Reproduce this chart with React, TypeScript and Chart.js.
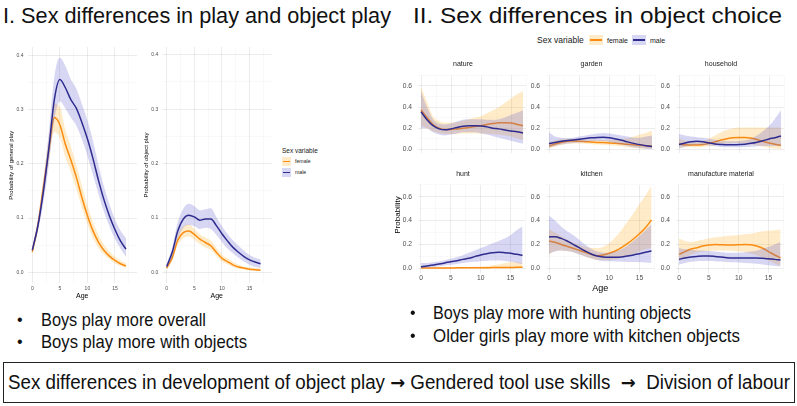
import React, { useEffect, useLayoutEffect, useRef } from "react";
import { Chart, registerables } from "chart.js";
Chart.register(...registerables);

// ---------------- data ----------------
const AGES = [0, 1, 2, 3, 4, 5, 6, 7, 8, 9, 10, 11, 12, 13, 14, 15, 16, 17];

// I. general play
const GEN_F = [0.038, 0.086, 0.156, 0.225, 0.285, 0.272, 0.236, 0.207, 0.175, 0.138, 0.105, 0.077, 0.056, 0.041, 0.030, 0.022, 0.016, 0.012];
const GEN_F_LO = [0.032, 0.077, 0.14, 0.205, 0.258, 0.248, 0.212, 0.185, 0.153, 0.119, 0.089, 0.064, 0.045, 0.033, 0.024, 0.017, 0.012, 0.008];
const GEN_F_HI = [0.045, 0.096, 0.172, 0.248, 0.31, 0.305, 0.262, 0.232, 0.198, 0.16, 0.124, 0.093, 0.069, 0.051, 0.038, 0.029, 0.022, 0.017];
const GEN_M = [0.041, 0.085, 0.148, 0.228, 0.318, 0.355, 0.34, 0.318, 0.302, 0.276, 0.246, 0.21, 0.17, 0.134, 0.104, 0.079, 0.058, 0.043];
const GEN_M_LO = [0.035, 0.074, 0.128, 0.198, 0.28, 0.315, 0.302, 0.285, 0.27, 0.245, 0.215, 0.18, 0.145, 0.112, 0.085, 0.062, 0.044, 0.029];
const GEN_M_HI = [0.048, 0.096, 0.168, 0.258, 0.36, 0.395, 0.38, 0.355, 0.338, 0.31, 0.28, 0.243, 0.198, 0.158, 0.125, 0.098, 0.077, 0.063];

// I. object play
const OBJ_F = [0.008, 0.027, 0.059, 0.073, 0.076, 0.070, 0.061, 0.055, 0.049, 0.037, 0.026, 0.020, 0.014, 0.010, 0.008, 0.006, 0.005, 0.004];
const OBJ_F_LO = [0.005, 0.021, 0.050, 0.063, 0.066, 0.060, 0.052, 0.046, 0.041, 0.030, 0.020, 0.015, 0.010, 0.007, 0.005, 0.004, 0.003, 0.002];
const OBJ_F_HI = [0.012, 0.034, 0.069, 0.085, 0.088, 0.080, 0.070, 0.064, 0.058, 0.045, 0.033, 0.026, 0.019, 0.014, 0.011, 0.009, 0.008, 0.007];
const OBJ_M = [0.011, 0.037, 0.076, 0.098, 0.105, 0.102, 0.096, 0.098, 0.098, 0.086, 0.071, 0.058, 0.046, 0.037, 0.029, 0.023, 0.019, 0.016];
const OBJ_M_LO = [0.006, 0.028, 0.062, 0.082, 0.087, 0.085, 0.080, 0.082, 0.080, 0.069, 0.056, 0.044, 0.035, 0.027, 0.020, 0.014, 0.010, 0.008];
const OBJ_M_HI = [0.016, 0.046, 0.092, 0.117, 0.126, 0.122, 0.114, 0.116, 0.118, 0.102, 0.085, 0.071, 0.059, 0.049, 0.040, 0.032, 0.027, 0.024];

// II. object choice
const NATURE_F = [0.374, 0.30, 0.235, 0.20, 0.187, 0.187, 0.193, 0.20, 0.207, 0.215, 0.223, 0.235, 0.243, 0.251, 0.251, 0.249, 0.235, 0.223];
const NATURE_F_LO = [0.22, 0.2, 0.17, 0.155, 0.145, 0.145, 0.148, 0.15, 0.15, 0.15, 0.15, 0.148, 0.145, 0.14, 0.13, 0.12, 0.105, 0.09];
const NATURE_F_HI = [0.59, 0.45, 0.31, 0.27, 0.25, 0.25, 0.257, 0.27, 0.285, 0.30, 0.313, 0.34, 0.37, 0.40, 0.44, 0.48, 0.52, 0.55];
const NATURE_M = [0.355, 0.28, 0.223, 0.193, 0.184, 0.193, 0.207, 0.217, 0.222, 0.223, 0.221, 0.212, 0.20, 0.193, 0.182, 0.173, 0.165, 0.154];
const NATURE_M_LO = [0.20, 0.20, 0.16, 0.14, 0.131, 0.14, 0.15, 0.16, 0.16, 0.16, 0.15, 0.14, 0.123, 0.109, 0.095, 0.081, 0.067, 0.053];
const NATURE_M_HI = [0.55, 0.40, 0.285, 0.243, 0.235, 0.243, 0.263, 0.28, 0.285, 0.285, 0.285, 0.28, 0.28, 0.285, 0.30, 0.327, 0.346, 0.37];

const GARDEN_F = [0.03, 0.05, 0.065, 0.075, 0.078, 0.076, 0.072, 0.068, 0.065, 0.063, 0.06, 0.056, 0.052, 0.047, 0.042, 0.037, 0.033, 0.03];
const GARDEN_F_LO = [0.01, 0.025, 0.04, 0.05, 0.055, 0.055, 0.052, 0.048, 0.045, 0.042, 0.038, 0.033, 0.027, 0.02, 0.014, 0.008, 0.005, 0.003];
const GARDEN_F_HI = [0.07, 0.085, 0.095, 0.1, 0.1, 0.097, 0.093, 0.09, 0.088, 0.087, 0.088, 0.09, 0.095, 0.105, 0.12, 0.14, 0.155, 0.175];
const GARDEN_M = [0.053, 0.065, 0.075, 0.082, 0.088, 0.095, 0.102, 0.108, 0.112, 0.113, 0.108, 0.098, 0.085, 0.07, 0.056, 0.044, 0.034, 0.026];
const GARDEN_M_LO = [0.015, 0.03, 0.045, 0.055, 0.06, 0.065, 0.07, 0.075, 0.078, 0.078, 0.07, 0.058, 0.045, 0.032, 0.02, 0.012, 0.006, 0.003];
const GARDEN_M_HI = [0.16, 0.12, 0.11, 0.105, 0.11, 0.12, 0.13, 0.14, 0.15, 0.155, 0.15, 0.14, 0.13, 0.12, 0.11, 0.11, 0.12, 0.13];

const HOUSE_F = [0.048, 0.042, 0.04, 0.04, 0.045, 0.056, 0.07, 0.087, 0.10, 0.109, 0.112, 0.112, 0.106, 0.092, 0.075, 0.059, 0.048, 0.036];
const HOUSE_F_LO = [0.015, 0.02, 0.02, 0.02, 0.022, 0.028, 0.035, 0.045, 0.055, 0.06, 0.06, 0.055, 0.045, 0.035, 0.025, 0.015, 0.008, 0.003];
const HOUSE_F_HI = [0.1, 0.08, 0.07, 0.07, 0.08, 0.1, 0.13, 0.16, 0.185, 0.2, 0.205, 0.205, 0.205, 0.205, 0.205, 0.205, 0.205, 0.205];
const HOUSE_M = [0.045, 0.06, 0.072, 0.075, 0.072, 0.06, 0.05, 0.045, 0.042, 0.042, 0.045, 0.048, 0.056, 0.067, 0.081, 0.098, 0.109, 0.126];
const HOUSE_M_LO = [0.01, 0.025, 0.035, 0.04, 0.04, 0.035, 0.028, 0.022, 0.02, 0.02, 0.02, 0.022, 0.025, 0.028, 0.03, 0.03, 0.03, 0.03];
const HOUSE_M_HI = [0.145, 0.13, 0.12, 0.115, 0.11, 0.1, 0.09, 0.08, 0.075, 0.075, 0.078, 0.085, 0.1, 0.13, 0.17, 0.22, 0.29, 0.37];

const HUNT_F = [0.003, 0.003, 0.003, 0.003, 0.003, 0.003, 0.004, 0.004, 0.004, 0.005, 0.005, 0.005, 0.006, 0.006, 0.007, 0.007, 0.008, 0.008];
const HUNT_F_LO = [0.001, 0.001, 0.001, 0.001, 0.001, 0.001, 0.001, 0.001, 0.001, 0.001, 0.001, 0.001, 0.001, 0.001, 0.001, 0.001, 0.001, 0.001];
const HUNT_F_HI = [0.01, 0.01, 0.01, 0.01, 0.01, 0.01, 0.011, 0.011, 0.012, 0.013, 0.015, 0.019, 0.025, 0.033, 0.042, 0.05, 0.05, 0.045];
const HUNT_M = [0.014, 0.02, 0.028, 0.036, 0.045, 0.056, 0.064, 0.075, 0.084, 0.098, 0.112, 0.123, 0.131, 0.134, 0.131, 0.126, 0.117, 0.109];
const HUNT_M_LO = [0.0, 0.005, 0.01, 0.017, 0.024, 0.03, 0.037, 0.044, 0.05, 0.055, 0.06, 0.063, 0.065, 0.065, 0.062, 0.055, 0.045, 0.035];
const HUNT_M_HI = [0.045, 0.045, 0.05, 0.058, 0.068, 0.08, 0.095, 0.11, 0.13, 0.15, 0.17, 0.19, 0.21, 0.23, 0.25, 0.28, 0.32, 0.35];

const KITCHEN_F = [0.229, 0.218, 0.20, 0.184, 0.168, 0.151, 0.134, 0.117, 0.106, 0.112, 0.126, 0.145, 0.173, 0.207, 0.246, 0.29, 0.34, 0.405];
const KITCHEN_F_LO = [0.12, 0.145, 0.15, 0.145, 0.135, 0.12, 0.1, 0.08, 0.07, 0.07, 0.07, 0.075, 0.09, 0.1, 0.12, 0.14, 0.16, 0.17];
const KITCHEN_F_HI = [0.33, 0.3, 0.27, 0.24, 0.215, 0.195, 0.18, 0.17, 0.17, 0.18, 0.21, 0.26, 0.32, 0.39, 0.46, 0.54, 0.61, 0.69];
const KITCHEN_M = [0.263, 0.265, 0.251, 0.229, 0.201, 0.173, 0.145, 0.12, 0.103, 0.095, 0.092, 0.092, 0.095, 0.103, 0.112, 0.123, 0.134, 0.145];
const KITCHEN_M_LO = [0.12, 0.14, 0.15, 0.145, 0.135, 0.115, 0.1, 0.085, 0.07, 0.06, 0.06, 0.058, 0.056, 0.054, 0.052, 0.05, 0.048, 0.045];
const KITCHEN_M_HI = [0.44, 0.4, 0.35, 0.31, 0.28, 0.24, 0.2, 0.165, 0.14, 0.13, 0.13, 0.14, 0.16, 0.19, 0.23, 0.27, 0.32, 0.37];

const MANU_F = [0.117, 0.14, 0.162, 0.173, 0.187, 0.195, 0.20, 0.198, 0.195, 0.195, 0.198, 0.20, 0.198, 0.187, 0.168, 0.14, 0.112, 0.089];
const MANU_F_LO = [0.06, 0.09, 0.115, 0.13, 0.14, 0.145, 0.15, 0.15, 0.15, 0.145, 0.14, 0.135, 0.125, 0.11, 0.09, 0.065, 0.04, 0.02];
const MANU_F_HI = [0.25, 0.23, 0.22, 0.23, 0.24, 0.25, 0.26, 0.265, 0.27, 0.275, 0.28, 0.285, 0.29, 0.3, 0.31, 0.315, 0.32, 0.325];
const MANU_M = [0.075, 0.087, 0.095, 0.1, 0.103, 0.103, 0.1, 0.095, 0.089, 0.087, 0.087, 0.087, 0.087, 0.087, 0.084, 0.081, 0.075, 0.07];
const MANU_M_LO = [0.03, 0.045, 0.055, 0.06, 0.062, 0.062, 0.06, 0.057, 0.053, 0.05, 0.048, 0.045, 0.042, 0.038, 0.032, 0.025, 0.02, 0.015];
const MANU_M_HI = [0.17, 0.16, 0.155, 0.15, 0.15, 0.145, 0.14, 0.135, 0.13, 0.13, 0.13, 0.135, 0.14, 0.15, 0.165, 0.18, 0.2, 0.22];

const LEFT_X_TICKS = [0, 2.5, 5, 7.5, 10, 12.5, 15, 17.5];
const LEFT_Y_TICKS = [0, 0.05, 0.1, 0.15, 0.2, 0.25, 0.3, 0.35, 0.4];
const FACET_X_TICKS = [0, 2.5, 5, 7.5, 10, 12.5, 15, 17.5];
const FACET_Y_TICKS = [0, 0.1, 0.2, 0.3, 0.4, 0.5, 0.6, 0.7];

const LEGEND_TITLE = "Sex variable";
const LEGEND_LABELS = ["female", "male"];

// ---------------- styles ----------------
const FONT = "'Liberation Sans', Arial, sans-serif";
const ARROW_FONT = "'DejaVu Sans', sans-serif";
const ORANGE = "#FB8C12";
const BLUE = "#2E2C8E";
const ORANGE_FILL = "rgba(255,170,20,0.24)";
const BLUE_FILL = "rgba(100,95,210,0.26)";
const GRID_MAJOR = "rgba(0,0,0,0.085)";
const GRID_MINOR = "rgba(0,0,0,0.045)";
const TICK_COLOR = "#4D4D4D";

type Series = { f: number[]; fLo: number[]; fHi: number[]; m: number[]; mLo: number[]; mHi: number[] };

const pts = (ys: number[]) => AGES.map((a, i) => ({ x: a, y: ys[i] }));

function datasets(s: Series, lw: number) {
  const base = { pointRadius: 0, cubicInterpolationMode: "monotone" as const };
  return [
    { ...base, data: pts(s.fLo), borderWidth: 0, borderColor: "transparent", fill: false, order: 6 },
    { ...base, data: pts(s.fHi), borderWidth: 0, borderColor: "transparent", backgroundColor: ORANGE_FILL, fill: 0, order: 5 },
    { ...base, data: pts(s.f), borderWidth: lw, borderColor: ORANGE, fill: false, order: 4 },
    { ...base, data: pts(s.mLo), borderWidth: 0, borderColor: "transparent", fill: false, order: 3 },
    { ...base, data: pts(s.mHi), borderWidth: 0, borderColor: "transparent", backgroundColor: BLUE_FILL, fill: 3, order: 2 },
    { ...base, data: pts(s.m), borderWidth: lw, borderColor: BLUE, fill: false, order: 1 },
  ];
}

type PanelCfg = {
  left: number; top: number; width: number; height: number;
  series: Series; lw: number;
  xMin: number; xMax: number; yMin: number; yMax: number;
  xTicks: number[]; yTicks: number[];
  xMajor: (v: number) => boolean; yMajor: (v: number) => boolean;
  yLabel: (v: number) => boolean;
  yWidth: number; xHeight: number; padTop: number; padRight: number;
  tickSize: number; yTickPad: number; xTickPad: number; showX: boolean;
  title?: string; titleSize?: number; titlePadBottom?: number;
  xTitle?: string; xTitleSize?: number; xTitlePad?: number;
  yTitle?: string; yTitleSize?: number; yTitlePad?: number;
};

function Panel({ cfg }: { cfg: PanelCfg }) {
  const ref = useRef<HTMLCanvasElement>(null);
  useEffect(() => {
    if (!ref.current) return;
    const gridOpts = (major: (v: number) => boolean) => ({
      drawTicks: false,
      color: (c: any) => (c.tick && major(c.tick.value) ? GRID_MAJOR : GRID_MINOR),
      lineWidth: (c: any) => (c.tick && major(c.tick.value) ? 0.9 : 0.6),
    });
    const chart = new Chart(ref.current, {
      type: "line",
      data: { datasets: datasets(cfg.series, cfg.lw) as any },
      options: {
        responsive: false,
        animation: false,
        events: [],
        layout: { padding: { top: cfg.padTop, right: cfg.padRight, left: 0, bottom: 0 } },
        plugins: {
          legend: { display: false },
          tooltip: { enabled: false },
          title: cfg.title
            ? {
                display: true,
                text: cfg.title,
                color: "#1A1A1A",
                font: { family: FONT, size: cfg.titleSize, weight: "normal" },
                padding: { top: 0, bottom: cfg.titlePadBottom },
              }
            : { display: false },
        },
        scales: {
          x: {
            type: "linear",
            min: cfg.xMin,
            max: cfg.xMax,
            afterBuildTicks: (s: any) => { s.ticks = cfg.xTicks.map((v) => ({ value: v })); },
            afterFit: (s: any) => { s.height = cfg.xHeight; },
            border: { display: false },
            grid: gridOpts(cfg.xMajor) as any,
            ticks: {
              display: cfg.showX,
              autoSkip: false,
              maxRotation: 0,
              padding: cfg.xTickPad,
              color: TICK_COLOR,
              font: { family: FONT, size: cfg.tickSize },
              callback: (v: any) => (Math.abs(Number(v) % 5) < 1e-9 ? String(v) : ""),
            },
            title: cfg.xTitle
              ? { display: true, text: cfg.xTitle, color: "#000", font: { family: FONT, size: cfg.xTitleSize }, padding: { top: 0, bottom: cfg.xTitlePad } }
              : { display: false },
          },
          y: {
            type: "linear",
            min: cfg.yMin,
            max: cfg.yMax,
            afterBuildTicks: (s: any) => { s.ticks = cfg.yTicks.map((v) => ({ value: v })); },
            afterFit: (s: any) => { s.width = cfg.yWidth; },
            border: { display: false },
            grid: gridOpts(cfg.yMajor) as any,
            ticks: {
              autoSkip: false,
              padding: cfg.yTickPad,
              color: TICK_COLOR,
              font: { family: FONT, size: cfg.tickSize },
              callback: (v: any) => (cfg.yLabel(Number(v)) ? Number(v).toFixed(1) : ""),
            },
            title: cfg.yTitle
              ? { display: true, text: cfg.yTitle, color: "#000", font: { family: FONT, size: cfg.yTitleSize }, padding: { top: cfg.yTitlePad, bottom: 0 } }
              : { display: false },
          },
        },
      } as any,
    });
    return () => chart.destroy();
  }, [cfg]);
  return (
    <canvas
      ref={ref}
      width={cfg.width}
      height={cfg.height}
      style={{ position: "absolute", left: cfg.left, top: cfg.top, width: cfg.width, height: cfg.height }}
    />
  );
}

type Seg = { t: string; arrow?: boolean };

function FitText({ segs, left, cy, width, size, color = "#111" }: { segs: Seg[]; left: number; cy: number; width: number; size: number; color?: string }) {
  const ref = useRef<HTMLSpanElement>(null);
  useLayoutEffect(() => {
    const el = ref.current;
    if (!el) return;
    el.style.transform = "translateY(-50%)";
    const w = el.getBoundingClientRect().width;
    const k = w > 0 ? width / w : 1;
    el.style.transform = `translateY(-50%) scaleX(${k})`;
  }, [segs, width, size]);
  return (
    <span
      ref={ref}
      style={{
        position: "absolute", left, top: cy, whiteSpace: "pre", fontFamily: FONT, fontSize: size,
        lineHeight: 1, color, transformOrigin: "left center", transform: "translateY(-50%)",
      }}
    >
      {segs.map((s, i) =>
        s.arrow ? (
          <span key={i} style={{ fontFamily: ARROW_FONT, fontWeight: "bold", fontSize: size * 0.95 }}>{s.t}</span>
        ) : (
          <span key={i}>{s.t}</span>
        )
      )}
    </span>
  );
}

function Label({ text, left, cy, size, color = "#1A1A1A" }: { text: string; left: number; cy: number; size: number; color?: string }) {
  return (
    <span style={{ position: "absolute", left, top: cy, transform: "translateY(-50%)", whiteSpace: "nowrap", fontFamily: FONT, fontSize: size, lineHeight: 1, color }}>
      {text}
    </span>
  );
}

function LegendKey({ left, cy, w, h, fill, line, lw }: { left: number; cy: number; w: number; h: number; fill: string; line: string; lw: number }) {
  return (
    <div style={{ position: "absolute", left, top: cy - h / 2, width: w, height: h, background: fill }}>
      <div style={{ position: "absolute", left: 1, right: 1, top: h / 2 - lw / 2, height: lw, background: line }} />
    </div>
  );
}

const ser = (f: number[], fLo: number[], fHi: number[], m: number[], mLo: number[], mHi: number[]): Series => ({ f, fLo, fHi, m, mLo, mHi });

const major10 = (v: number) => Math.round(v * 100) % 10 === 0;
const major20 = (v: number) => Math.round(v * 100) % 20 === 0;
const major5 = (v: number) => Math.abs(v % 5) < 1e-9;

const leftBase = {
  lw: 1.5, xMin: -0.87, xMax: 19, yMin: -0.02, yMax: 0.415,
  xTicks: LEFT_X_TICKS, yTicks: LEFT_Y_TICKS, xMajor: major5, yMajor: major10, yLabel: major10,
  xHeight: 18.7, padTop: 4.9, tickSize: 5, xTickPad: 2, showX: true,
  xTitle: "Age", xTitleSize: 7, xTitlePad: 2.1, yTitleSize: 6,
  top: 40, height: 262,
};

const CFG_GEN: PanelCfg = {
  ...leftBase, left: 0, width: 138, padRight: 1, yWidth: 27.5, yTickPad: 4,
  series: ser(GEN_F, GEN_F_LO, GEN_F_HI, GEN_M, GEN_M_LO, GEN_M_HI),
  yTitle: "Probability of general play", yTitlePad: 8.1,
};
const CFG_OBJ: PanelCfg = {
  ...leftBase, left: 140, width: 133, padRight: 1.4, yWidth: 21.9, yTickPad: 3.6,
  series: ser(OBJ_F, OBJ_F_LO, OBJ_F_HI, OBJ_M, OBJ_M_LO, OBJ_M_HI),
  yTitle: "Probability of object play", yTitlePad: 2.4,
};

const facetBase = {
  lw: 1.5, xMin: -0.5, xMax: 17.5, yMin: -0.035, yMax: 0.7,
  xTicks: FACET_X_TICKS, yTicks: FACET_Y_TICKS, xMajor: major5, yMajor: major20, yLabel: major20,
  yWidth: 18, padTop: 0, padRight: 1, tickSize: 6.7, yTickPad: 6, xTickPad: 1.5, titleSize: 7,
};
const COLS = [
  { left: 400, width: 127 },
  { left: 528, width: 128 },
  { left: 658, width: 127 },
];
const topRow = (c: number, title: string, s: Series): PanelCfg => ({
  ...facetBase, ...COLS[c], top: 60, height: 103, xHeight: 0, showX: false, title, titlePadBottom: 6.9, series: s,
});
const bottomRow = (c: number, title: string, s: Series, xTitle?: string): PanelCfg => ({
  ...facetBase, ...COLS[c], top: 170, height: 127, xHeight: 24.5, showX: true, title, titlePadBottom: 6.4, series: s,
  xTitle, xTitleSize: 9, xTitlePad: 3.3,
});

const CFG_FACETS: PanelCfg[] = [
  topRow(0, "nature", ser(NATURE_F, NATURE_F_LO, NATURE_F_HI, NATURE_M, NATURE_M_LO, NATURE_M_HI)),
  topRow(1, "garden", ser(GARDEN_F, GARDEN_F_LO, GARDEN_F_HI, GARDEN_M, GARDEN_M_LO, GARDEN_M_HI)),
  topRow(2, "household", ser(HOUSE_F, HOUSE_F_LO, HOUSE_F_HI, HOUSE_M, HOUSE_M_LO, HOUSE_M_HI)),
  bottomRow(0, "hunt", ser(HUNT_F, HUNT_F_LO, HUNT_F_HI, HUNT_M, HUNT_M_LO, HUNT_M_HI)),
  bottomRow(1, "kitchen", ser(KITCHEN_F, KITCHEN_F_LO, KITCHEN_F_HI, KITCHEN_M, KITCHEN_M_LO, KITCHEN_M_HI), "Age"),
  bottomRow(2, "manufacture material", ser(MANU_F, MANU_F_LO, MANU_F_HI, MANU_M, MANU_M_LO, MANU_M_HI)),
];

const TITLE_I: Seg[] = [{ t: "I. Sex differences in play and object play" }];
const TITLE_II: Seg[] = [{ t: "II. Sex differences in object choice" }];
const BUL_1: Seg[] = [{ t: "Boys play more overall" }];
const BUL_2: Seg[] = [{ t: "Boys play more with objects" }];
const BUL_3: Seg[] = [{ t: "Boys play more with hunting objects" }];
const BUL_4: Seg[] = [{ t: "Older girls play more with kitchen objects" }];
const BOX_TEXT: Seg[] = [
  { t: "Sex differences in development of object play " },
  { t: "→", arrow: true },
  { t: " Gendered tool use skills  " },
  { t: "→", arrow: true },
  { t: "  Division of labour" },
];

export default function App() {
  return (
    <div style={{ position: "fixed", left: 0, top: 0, width: 797, height: 406, background: "#fff", overflow: "hidden" }}>
      <FitText segs={TITLE_I} left={3} cy={17} width={388} size={21.5} />
      <FitText segs={TITLE_II} left={413} cy={17} width={369} size={21.5} />

      <Panel cfg={CFG_GEN} />
      <Panel cfg={CFG_OBJ} />

      {/* legend I */}
      <Label text={LEGEND_TITLE} left={282} cy={150.7} size={6.5} />
      <LegendKey left={282.3} cy={161.7} w={9} h={9} fill={ORANGE_FILL} line={ORANGE} lw={1.2} />
      <Label text={LEGEND_LABELS[0]} left={295} cy={161.7} size={5.2} />
      <LegendKey left={282.3} cy={172.7} w={9} h={9} fill={BLUE_FILL} line={BLUE} lw={1.2} />
      <Label text={LEGEND_LABELS[1]} left={295} cy={172.7} size={5.2} />

      {/* legend II */}
      <Label text={LEGEND_TITLE} left={537} cy={40} size={8.5} />
      <LegendKey left={589} cy={40} w={14} h={10} fill={ORANGE_FILL} line={ORANGE} lw={1.5} />
      <Label text={LEGEND_LABELS[0]} left={607} cy={40} size={7} />
      <LegendKey left={632} cy={40} w={14} h={10} fill={BLUE_FILL} line={BLUE} lw={1.5} />
      <Label text={LEGEND_LABELS[1]} left={650} cy={40} size={7} />

      {CFG_FACETS.map((c, i) => (
        <Panel key={i} cfg={c} />
      ))}

      <span style={{ position: "absolute", left: 398, top: 215, transform: "translate(-50%,-50%) rotate(-90deg)", whiteSpace: "nowrap", fontFamily: FONT, fontSize: 8, lineHeight: 1, color: "#000" }}>
        Probability
      </span>

      {/* bullets */}
      <Label text="•" left={17} cy={320} size={16} color="#111" />
      <FitText segs={BUL_1} left={41} cy={320} width={165} size={18.5} />
      <Label text="•" left={17} cy={342} size={16} color="#111" />
      <FitText segs={BUL_2} left={41} cy={342} width={206} size={18.5} />
      <Label text="•" left={410} cy={313} size={16} color="#111" />
      <FitText segs={BUL_3} left={433} cy={313} width={258} size={18.5} />
      <Label text="•" left={410} cy={336} size={16} color="#111" />
      <FitText segs={BUL_4} left={433} cy={336} width={307} size={18.5} />

      {/* bottom box */}
      <div style={{ position: "absolute", left: 3, top: 362, width: 790, height: 39, border: "1.5px solid #222" }} />
      <FitText segs={BOX_TEXT} left={8} cy={383} width={782} size={19.5} />
    </div>
  );
}
